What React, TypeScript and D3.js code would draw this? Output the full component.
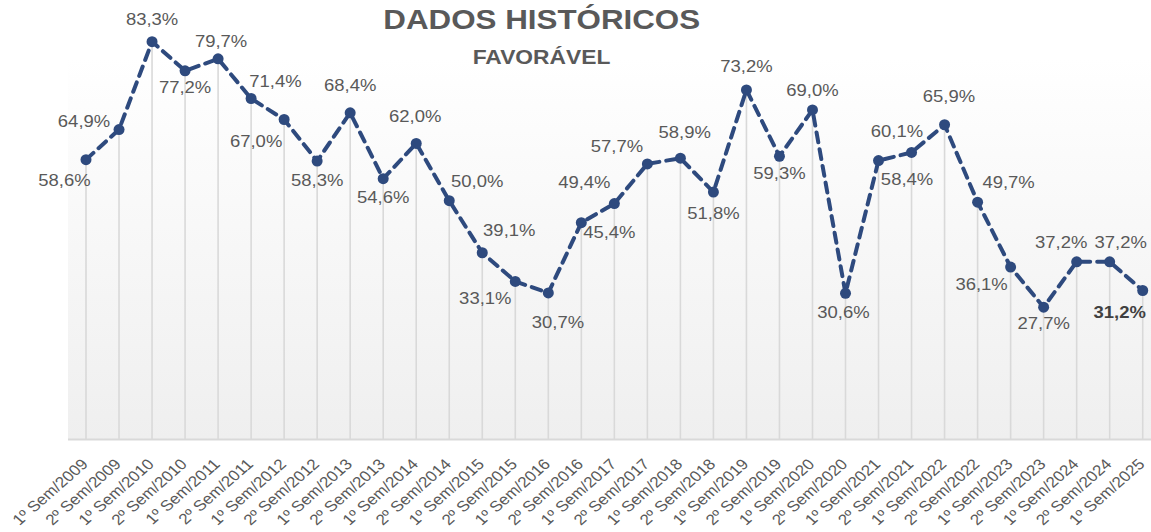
import React from "react";
import * as d3 from "d3";

const categories: string[] = [
  "1º Sem/2009", "2º Sem/2009", "1º Sem/2010", "2º Sem/2010", "1º Sem/2011", "2º Sem/2011",
  "1º Sem/2012", "2º Sem/2012", "1º Sem/2013", "2º Sem/2013", "1º Sem/2014", "2º Sem/2014",
  "1º Sem/2015", "2º Sem/2015", "1º Sem/2016", "2º Sem/2016", "1º Sem/2017", "2º Sem/2017",
  "1º Sem/2018", "2º Sem/2018", "1º Sem/2019", "2º Sem/2019", "1º Sem/2020", "2º Sem/2020",
  "1º Sem/2021", "2º Sem/2021", "1º Sem/2022", "2º Sem/2022", "1º Sem/2023", "2º Sem/2023",
  "1º Sem/2024", "2º Sem/2024", "1º Sem/2025",
];

const favoravel: number[] = [
  58.6, 64.9, 83.3, 77.2, 79.7, 71.4,
  67.0, 58.3, 68.4, 54.6, 62.0, 50.0,
  39.1, 33.1, 30.7, 45.4, 49.4, 57.7,
  58.9, 51.8, 73.2, 59.3, 69.0, 30.6,
  58.4, 60.1, 65.9, 49.7, 36.1, 27.7,
  37.2, 37.2, 31.2,
];

const title = "DADOS HISTÓRICOS";
const subtitle = "FAVORÁVEL";

// label placement offsets (dx, dy) relative to each point
const labelOffsets: [number, number][] = [
  [-21.5, 26.7], [-35, -2.8], [0, -16.7], [0, 22], [3, -12.3], [24.3, -11],
  [-28, 27.3], [0, 25], [0, -22], [0, 24.7], [-1, -21], [28, -14],
  [27, -17], [-30, 22.6], [9.7, 35.4], [28, 15.6], [-30, -15.3], [-30.4, -12.2],
  [4.3, -20.5], [0, 27.2], [0, -18], [0, 22.7], [0, -14], [-2, 25],
  [28.5, 24.4], [-14.6, -15.2], [4.4, -23], [31, -14.4], [-29, 23], [0, 22],
  [-15.4, -14], [11, -14], [-23, 28],
];

const W = 1151;
const H = 532;
const SX = 1.14; // horizontal stretch of text
const FONT = "'Liberation Sans', Arial, sans-serif";
const TEXT_COLOR = "#595959";
const LINE_COLOR = "#2e4a7e";

const plotLeft = 68;
const plotTop = 58;
const baseY = 439.5;

const fmt = (v: number) => d3.format(".1f")(v).replace(".", ",") + "%";

export default function App() {
  const x = d3.scalePoint<string>().domain(categories).range([86, 1142.7]);
  const y = d3.scaleLinear().domain([0, 100]).range([baseY, baseY - 477.6]);

  const line = d3
    .line<number>()
    .x((_, i) => x(categories[i]) as number)
    .y((d) => y(d));

  const last = favoravel.length - 1;

  return (
    <svg
      width={W}
      height={H}
      style={{ position: "absolute", left: 0, top: 0, background: "#ffffff" }}
      fontFamily={FONT}
    >
      <defs>
        <linearGradient id="bg" x1="0" y1="0" x2="0" y2="1">
          <stop offset="0%" stopColor="#ffffff" />
          <stop offset="100%" stopColor="#efefef" />
        </linearGradient>
      </defs>
      <rect x={plotLeft} y={plotTop} width={W - plotLeft} height={baseY - plotTop} fill="url(#bg)" />

      {/* drop lines */}
      {favoravel.map((v, i) => (
        <line
          key={"d" + i}
          x1={x(categories[i])}
          x2={x(categories[i])}
          y1={y(v)}
          y2={baseY}
          stroke="#d9d9d9"
          strokeWidth={1.6}
        />
      ))}

      {/* axis line */}
      <line x1={plotLeft} x2={W} y1={baseY} y2={baseY} stroke="#d9d9d9" strokeWidth={2} />

      {/* series line */}
      <path
        d={line(favoravel) || ""}
        fill="none"
        stroke={LINE_COLOR}
        strokeWidth={4}
        strokeDasharray="10 7"
        strokeLinecap="round"
        strokeLinejoin="round"
      />
      {favoravel.map((v, i) => (
        <circle key={"c" + i} cx={x(categories[i])} cy={y(v)} r={5.5} fill={LINE_COLOR} />
      ))}

      {/* data labels */}
      {favoravel.map((v, i) => {
        const [dx, dy] = labelOffsets[i];
        const px = (x(categories[i]) as number) + dx;
        const py = y(v) + dy;
        return (
          <text
            key={"l" + i}
            transform={`translate(${px},${py}) scale(${SX},1)`}
            textAnchor="middle"
            fontSize={16.2}
            fontWeight={i === last ? "bold" : "normal"}
            fill={i === last ? "#404040" : TEXT_COLOR}
          >
            {fmt(v)}
          </text>
        );
      })}

      {/* x tick labels */}
      {categories.map((c) => (
        <text
          key={"t" + c}
          transform={`translate(${(x(c) as number) + 3},465) scale(${SX},1) rotate(-45)`}
          textAnchor="end"
          fontSize={15}
          fill={TEXT_COLOR}
        >
          {c}
        </text>
      ))}

      {/* titles */}
      <text
        transform={`translate(541.7,29.3) scale(${SX},1)`}
        textAnchor="middle"
        fontSize={27.5}
        fontWeight="bold"
        fill={TEXT_COLOR}
      >
        {title}
      </text>
      <text
        transform={`translate(541.5,64) scale(${SX},1)`}
        textAnchor="middle"
        fontSize={20}
        fontWeight="bold"
        fill={TEXT_COLOR}
      >
        {subtitle}
      </text>
    </svg>
  );
}
